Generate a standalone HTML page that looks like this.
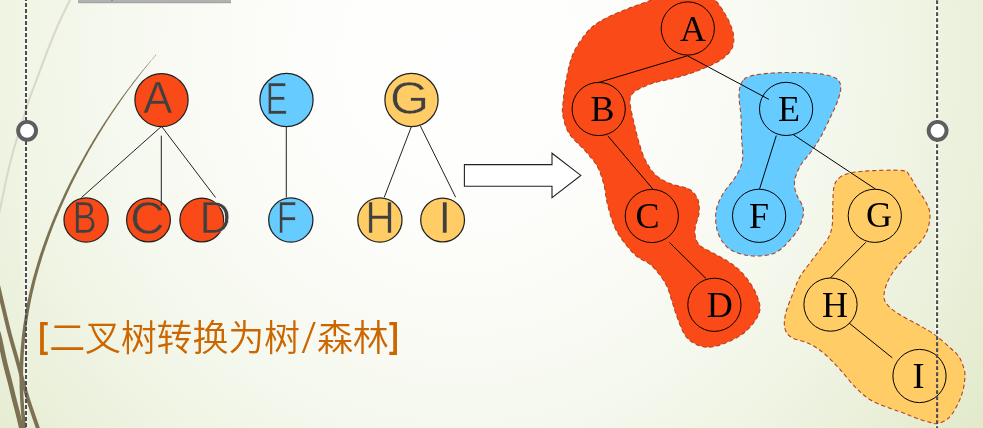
<!DOCTYPE html>
<html lang="zh-CN">
<head>
<meta charset="utf-8">
<title>二叉树转换为树/森林</title>
<style>
html,body{margin:0;padding:0;}
body{width:983px;height:428px;overflow:hidden;position:relative;
 background:#F4F7EA;
 font-family:"Liberation Sans","Noto Sans CJK SC",sans-serif;}
#bg{position:absolute;left:0;top:0;width:983px;height:428px;
 background:radial-gradient(ellipse 776px 800px at 460px 60px,#FEFEFE 0.00%,#FEFEFD 6.25%,#FEFEFD 12.50%,#FDFDFB 18.75%,#FCFDF9 25.00%,#FAFBF6 31.25%,#F8FAF3 37.50%,#F6F9EF 43.75%,#F3F7EB 50.00%,#F1F5E5 56.25%,#EDF2E0 62.50%,#EAF0D9 68.75%,#E6EDD2 75.00%,#E2EACB 81.25%,#DDE7C3 87.50%,#D8E3BA 93.75%,#D3DFB1 100.00%);}
svg{position:absolute;left:0;top:0;}
.title{position:absolute;left:38.2px;top:320.8px;margin:0;white-space:nowrap;
 font-family:"Liberation Sans","Noto Sans CJK SC",sans-serif;
 font-size:36px;line-height:36px;font-weight:350;color:#CC6600;letter-spacing:-0.2px;}
.title b{font-weight:bold;letter-spacing:0;position:relative;top:-3.3px;display:inline-block;transform:scale(0.8,0.985);}
.title b.l{margin-right:-1px;transform-origin:1.98px 50%;}
.title b.r{transform-origin:0.4px 50%;}
.title i{font-style:normal;font-family:"DejaVu Sans","Liberation Sans",sans-serif;font-size:37.1px;letter-spacing:0;
 display:inline-block;width:17.2px;position:relative;top:-1.9px;}
.title i span{display:inline-block;transform:scaleX(1.24);transform-origin:0 50%;margin-left:0.9px;}
#stage{position:absolute;left:0;top:0;width:983px;height:428px;will-change:transform;}
.lt{font-family:"Liberation Sans",sans-serif;font-size:42px;fill:#404040;}
.rt{font-family:"Liberation Serif",serif;font-size:36px;fill:#000;}
</style>
</head>
<body>
<div id="bg"></div>
<div id="stage">
<svg width="983" height="428" viewBox="0 0 983 428">
<rect x="78" y="-1" width="153" height="4" fill="#B1B1B1"/>
<rect x="78" y="2.4" width="153" height="0.8" fill="#9C9C9C"/>
<rect x="111.5" y="0" width="1" height="1.2" fill="#666"/>
<line x1="26" y1="0" x2="26" y2="428" stroke="#FFFFF4" stroke-opacity="0.5" stroke-width="4.4"/>
<line x1="937.1" y1="0" x2="937.1" y2="428" stroke="#FFFFF4" stroke-opacity="0.5" stroke-width="4.4"/>
<path d="M70.0 0.0C68.0 4.2 61.8 16.3 58.0 25.0C54.2 33.7 50.6 42.8 47.0 52.0C43.4 61.2 39.5 72.0 36.5 80.0C33.5 88.0 31.6 92.3 29.0 100.0C26.4 107.7 23.7 117.3 21.0 126.0C18.3 134.7 15.3 143.7 13.0 152.0C10.7 160.3 8.8 168.0 7.0 176.0C5.2 184.0 3.3 193.7 2.0 200.0C0.7 206.3 -0.5 211.7 -1.0 214.0" fill="none" stroke="#DAD8CA" stroke-width="2.1"/>
<path d="M156.2 54.4L155.6 55.1L154.7 56.1L153.8 57.2L152.7 58.5L151.5 59.9L150.2 61.3L149.0 62.7L147.8 64.2L146.6 65.6L145.5 66.9L144.5 68.1L143.4 69.4L142.4 70.6L141.4 71.9L140.4 73.1L139.4 74.4L138.3 75.6L137.3 76.9L136.4 78.1L135.4 79.4L134.4 80.6L133.4 81.9L132.4 83.1L131.5 84.4L130.5 85.7L129.6 86.9L128.6 88.2L127.7 89.4L126.7 90.7L125.8 91.9L124.9 93.2L124.0 94.4L123.0 95.7L122.1 96.9L121.2 98.2L120.3 99.4L119.4 100.7L118.5 101.9L117.6 103.2L116.7 104.5L115.9 105.7L115.0 107.0L114.1 108.2L113.2 109.5L112.4 110.7L111.5 112.0L110.7 113.2L109.8 114.5L109.0 115.7L108.1 117.0L107.3 118.3L106.5 119.5L105.6 120.8L104.8 122.0L104.0 123.3L103.2 124.5L102.4 125.8L101.6 127.0L100.8 128.3L100.0 129.5L99.2 130.8L98.4 132.1L97.6 133.3L96.8 134.6L96.1 135.8L95.3 137.1L94.5 138.3L93.7 139.6L93.0 140.8L92.2 142.1L91.5 143.4L90.7 144.6L90.0 145.9L89.2 147.1L88.5 148.4L87.8 149.6L87.1 150.9L86.3 152.1L85.6 153.4L84.9 154.7L84.2 155.9L83.5 157.2L82.8 158.4L82.1 159.7L81.4 160.9L80.7 162.2L80.0 163.5L79.3 164.7L78.6 166.0L77.9 167.2L77.3 168.5L76.6 169.7L75.9 171.0L75.3 172.2L74.6 173.5L73.9 174.8L73.3 176.0L72.6 177.3L72.0 178.5L71.3 179.8L70.7 181.0L70.1 182.3L69.4 183.6L68.8 184.8L68.2 186.1L67.6 187.3L67.0 188.6L66.4 189.8L65.7 191.1L65.1 192.4L64.5 193.6L63.9 194.9L63.4 196.1L62.8 197.4L62.2 198.7L61.6 199.9L61.0 201.2L60.5 202.4L59.9 203.7L59.3 204.9L58.8 206.2L58.2 207.5L57.7 208.7L57.1 210.0L56.6 211.2L56.0 212.5L55.5 213.8L54.9 215.0L54.4 216.3L53.9 217.5L53.4 218.8L52.8 220.1L52.3 221.3L51.8 222.6L51.3 223.8L50.8 225.1L50.3 226.4L49.8 227.6L49.3 228.9L48.8 230.1L48.3 231.4L47.8 232.6L47.4 233.9L46.9 235.2L46.4 236.4L45.9 237.7L45.5 238.9L45.0 240.2L44.6 241.5L44.1 242.7L43.7 244.0L43.2 245.2L42.8 246.5L42.3 247.8L41.9 249.0L41.5 250.3L41.1 251.5L40.6 252.8L40.2 254.1L39.8 255.3L39.4 256.6L39.0 257.8L38.6 259.1L38.2 260.4L37.8 261.6L37.4 262.9L37.0 264.2L36.7 265.4L36.3 266.7L35.9 267.9L35.5 269.2L35.2 270.5L34.8 271.7L34.5 273.0L34.1 274.2L33.8 275.5L33.4 276.8L33.1 278.0L32.7 279.3L32.4 280.5L32.1 281.8L31.8 283.1L31.4 284.3L31.1 285.6L30.8 286.9L30.5 288.1L30.2 289.4L29.9 290.6L29.6 291.9L29.3 293.2L29.0 294.4L28.7 295.7L28.5 297.0L28.2 298.2L27.9 299.5L27.6 300.7L27.4 302.0L27.1 303.3L26.9 304.5L26.6 305.8L26.4 307.1L26.1 308.3L25.9 309.6L25.7 310.8L25.4 312.1L25.2 313.4L25.0 314.6L24.8 315.9L24.6 317.2L24.4 318.4L24.2 319.7L24.0 320.9L23.8 322.2L23.6 323.5L23.4 324.7L23.2 326.0L23.0 327.3L22.9 328.5L22.7 329.8L22.5 331.0L22.4 332.3L22.2 333.6L22.1 334.8L21.9 336.1L21.8 337.4L21.6 338.6L21.5 339.9L21.4 341.2L21.2 342.4L21.1 343.7L21.0 344.9L20.9 346.2L20.8 347.5L20.7 348.7L20.6 350.0L20.5 351.3L20.4 352.5L20.3 353.8L20.2 355.1L20.2 356.3L20.1 357.6L20.0 358.8L20.0 360.1L19.9 361.4L19.8 362.6L19.8 363.9L19.8 365.2L19.7 366.4L19.7 367.7L19.6 369.0L19.6 370.2L19.6 371.5L19.6 372.7L19.5 374.0L19.5 375.3L19.5 376.5L19.5 377.8L19.5 379.1L19.5 380.3L19.5 381.6L19.6 382.9L19.6 384.1L19.6 385.4L19.6 386.7L19.6 387.9L19.7 389.2L19.7 390.4L19.8 391.7L19.8 393.0L19.9 394.2L19.9 395.5L20.0 396.8L20.0 398.0L20.1 399.3L20.2 400.6L20.2 401.8L20.3 403.1L20.4 404.3L20.5 405.6L20.6 406.9L20.7 408.1L20.8 409.4L20.9 410.7L21.0 411.9L21.1 413.2L21.2 414.5L21.3 415.7L21.4 417.0L21.6 418.2L21.7 419.5L21.8 420.8L22.0 422.2L22.1 423.7L22.3 425.2L22.5 426.6L22.7 428.0L22.8 429.3L23.0 430.4L23.1 431.4L23.2 432.1L26.7 431.7L26.6 430.9L26.5 430.0L26.4 428.8L26.2 427.6L26.1 426.2L25.9 424.7L25.7 423.3L25.5 421.8L25.4 420.4L25.3 419.1L25.1 417.9L25.0 416.6L24.9 415.4L24.8 414.1L24.6 412.9L24.5 411.6L24.4 410.4L24.3 409.1L24.2 407.9L24.1 406.6L24.0 405.4L24.0 404.1L23.9 402.9L23.8 401.6L23.7 400.3L23.7 399.1L23.6 397.8L23.5 396.6L23.5 395.3L23.4 394.1L23.4 392.8L23.3 391.6L23.3 390.3L23.2 389.1L23.2 387.8L23.2 386.6L23.1 385.3L23.1 384.1L23.1 382.8L23.1 381.6L23.1 380.3L23.1 379.1L23.1 377.8L23.1 376.6L23.1 375.3L23.1 374.1L23.1 372.8L23.1 371.5L23.1 370.3L23.2 369.0L23.2 367.8L23.2 366.5L23.3 365.3L23.3 364.0L23.4 362.8L23.4 361.5L23.5 360.3L23.5 359.0L23.6 357.8L23.7 356.5L23.7 355.3L23.8 354.0L23.9 352.8L24.0 351.5L24.1 350.3L24.2 349.0L24.3 347.8L24.4 346.5L24.5 345.3L24.6 344.0L24.7 342.7L24.8 341.5L24.9 340.2L25.1 339.0L25.2 337.7L25.3 336.5L25.5 335.2L25.6 334.0L25.8 332.7L25.9 331.5L26.1 330.2L26.2 329.0L26.4 327.7L26.6 326.5L26.7 325.2L26.9 324.0L27.1 322.7L27.3 321.4L27.5 320.2L27.7 318.9L27.9 317.7L28.1 316.4L28.3 315.2L28.5 313.9L28.7 312.7L28.9 311.4L29.1 310.2L29.4 308.9L29.6 307.7L29.8 306.4L30.1 305.2L30.3 303.9L30.6 302.6L30.8 301.4L31.1 300.1L31.3 298.9L31.6 297.6L31.9 296.4L32.1 295.1L32.4 293.9L32.7 292.6L33.0 291.4L33.3 290.1L33.6 288.9L33.9 287.6L34.2 286.3L34.5 285.1L34.8 283.8L35.1 282.6L35.4 281.3L35.7 280.1L36.1 278.8L36.4 277.6L36.7 276.3L37.1 275.1L37.4 273.8L37.8 272.5L38.1 271.3L38.5 270.0L38.8 268.8L39.2 267.5L39.6 266.3L39.9 265.0L40.3 263.8L40.7 262.5L41.1 261.3L41.5 260.0L41.8 258.7L42.2 257.5L42.6 256.2L43.0 255.0L43.4 253.7L43.8 252.5L44.3 251.2L44.7 250.0L45.1 248.7L45.5 247.4L45.9 246.2L46.4 244.9L46.8 243.7L47.3 242.4L47.7 241.2L48.1 239.9L48.6 238.7L49.0 237.4L49.5 236.1L50.0 234.9L50.4 233.6L50.9 232.4L51.4 231.1L51.9 229.9L52.3 228.6L52.8 227.3L53.3 226.1L53.8 224.8L54.3 223.6L54.8 222.3L55.3 221.1L55.8 219.8L56.3 218.5L56.8 217.3L57.4 216.0L57.9 214.8L58.4 213.5L58.9 212.3L59.5 211.0L60.0 209.7L60.5 208.5L61.1 207.2L61.6 206.0L62.2 204.7L62.8 203.5L63.3 202.2L63.9 200.9L64.4 199.7L65.0 198.4L65.6 197.2L66.2 195.9L66.7 194.7L67.3 193.4L67.9 192.1L68.5 190.9L69.1 189.6L69.7 188.4L70.3 187.1L70.9 185.8L71.5 184.6L72.1 183.3L72.8 182.1L73.4 180.8L74.0 179.6L74.6 178.3L75.3 177.0L75.9 175.8L76.5 174.5L77.2 173.3L77.8 172.0L78.5 170.7L79.1 169.5L79.8 168.2L80.5 167.0L81.1 165.7L81.8 164.4L82.5 163.2L83.1 161.9L83.8 160.7L84.5 159.4L85.2 158.1L85.9 156.9L86.6 155.6L87.3 154.4L88.0 153.1L88.7 151.8L89.4 150.6L90.1 149.3L90.9 148.1L91.6 146.8L92.3 145.5L93.0 144.3L93.8 143.0L94.5 141.8L95.3 140.5L96.0 139.2L96.8 138.0L97.5 136.7L98.3 135.5L99.0 134.2L99.8 132.9L100.6 131.7L101.4 130.4L102.1 129.2L102.9 127.9L103.7 126.6L104.5 125.4L105.3 124.1L106.1 122.8L106.9 121.6L107.7 120.3L108.5 119.1L109.4 117.8L110.2 116.5L111.0 115.3L111.8 114.0L112.7 112.8L113.5 111.5L114.4 110.2L115.2 109.0L116.1 107.7L116.9 106.4L117.8 105.2L118.7 103.9L119.5 102.7L120.4 101.4L121.3 100.1L122.2 98.9L123.1 97.6L124.0 96.3L124.9 95.1L125.8 93.8L126.7 92.6L127.6 91.3L128.5 90.0L129.4 88.8L130.4 87.5L131.3 86.2L132.3 85.0L133.2 83.7L134.1 82.5L135.1 81.2L136.1 79.9L137.0 78.7L138.0 77.4L139.0 76.1L140.0 74.9L140.9 73.6L141.9 72.3L142.9 71.1L143.9 69.8L144.9 68.5L146.0 67.3L147.0 65.9L148.2 64.5L149.4 63.1L150.6 61.6L151.8 60.1L153.0 58.8L154.0 57.5L155.0 56.3L155.8 55.4L156.4 54.6Z" fill="#7C7153"/>
<path d="M-2.0 285.0C-1.1 288.8 1.4 299.7 3.4 308.0C5.4 316.3 7.5 325.7 10.0 335.0C12.5 344.3 15.4 353.8 18.2 364.0C21.0 374.2 23.6 385.0 27.0 396.0C30.4 407.0 36.6 424.3 38.5 430.0" fill="none" stroke="#7C7153" stroke-width="3.9"/>
<path d="M-2.0 332.0C-1.6 333.4 -0.9 335.5 0.2 340.5C1.3 345.5 3.2 355.2 4.8 362.0C6.4 368.8 8.2 375.2 9.7 381.0C11.2 386.8 12.3 391.8 13.6 397.0C14.9 402.2 16.1 406.5 17.5 412.0C18.9 417.5 21.1 427.0 21.8 430.0" fill="none" stroke="#7C7153" stroke-width="4.7"/>
<line x1="161.0" y1="126.8" x2="81.5" y2="197.5" stroke="#222" stroke-width="1"/>
<line x1="161.9" y1="126.8" x2="215.5" y2="197.5" stroke="#222" stroke-width="1"/>
<line x1="286.3" y1="127.0" x2="286.3" y2="197.5" stroke="#222" stroke-width="1"/>
<line x1="411.4" y1="126.6" x2="384.3" y2="197.2" stroke="#222" stroke-width="1"/>
<line x1="420.4" y1="126.0" x2="455.6" y2="197.2" stroke="#222" stroke-width="1"/>
<path d="M464.4 164.6H552V153.2L580.8 175.4L552 197.6V186.3H464.4Z" fill="#FFFFFF" stroke="#222" stroke-width="1.1" stroke-linejoin="miter"/>
<circle cx="161.5" cy="100.1" r="26.6" fill="#FA4A17" stroke="#222" stroke-width="1.25"/>
<circle cx="286.5" cy="100.0" r="26.6" fill="#66CCFF" stroke="#222" stroke-width="1.25"/>
<circle cx="411.5" cy="100.0" r="26.6" fill="#FFCC66" stroke="#222" stroke-width="1.25"/>
<circle cx="86.1" cy="220.0" r="22.1" fill="#FA4A17" stroke="#222" stroke-width="1.25"/>
<circle cx="148.5" cy="220.0" r="21.9" fill="#FA4A17" stroke="#222" stroke-width="1.25"/>
<circle cx="201.8" cy="220.0" r="21.9" fill="#FA4A17" stroke="#222" stroke-width="1.25"/>
<circle cx="290.8" cy="220.0" r="22.1" fill="#66CCFF" stroke="#222" stroke-width="1.25"/>
<circle cx="379.9" cy="220.0" r="22.1" fill="#FFCC66" stroke="#222" stroke-width="1.25"/>
<circle cx="442.6" cy="220.0" r="21.9" fill="#FFCC66" stroke="#222" stroke-width="1.25"/>
<line x1="161.3" y1="135.7" x2="161.3" y2="205.9" stroke="#222" stroke-width="1"/>
<text class="lt" transform="translate(143.29 113.00) scale(1.039 1.049)" stroke="#FA4A17" stroke-width="0.57">A</text>
<text class="lt" transform="translate(265.44 113.60) scale(0.791 1.070)" stroke="#66CCFF" stroke-width="0.65">E</text>
<text class="lt" transform="translate(390.09 114.13) scale(1.196 1.110)" stroke="#FFCC66" stroke-width="0.52">G</text>
<text class="lt" transform="translate(72.64 233.30) scale(0.850 1.049)" stroke="#FA4A17" stroke-width="0.63">B</text>
<text class="lt" transform="translate(130.33 233.84) scale(1.129 1.100)" stroke="#FA4A17" stroke-width="0.54">C</text>
<text class="lt" transform="translate(199.50 233.20) scale(1.040 1.052)" stroke="url(#dg)" stroke-width="0.57">D</text>
<text class="lt" transform="translate(276.88 233.30) scale(0.778 1.049)" stroke="#66CCFF" stroke-width="0.66">F</text>
<text class="lt" transform="translate(365.57 233.20) scale(0.961 1.052)" stroke="#FFCC66" stroke-width="0.60">H</text>
<text class="lt" transform="translate(438.35 233.20) scale(1.123 1.052)" stroke="#FFCC66" stroke-width="0.55">I</text>
<defs><radialGradient id="dg" gradientUnits="userSpaceOnUse" cx="201.8" cy="220.0" r="22.8" gradientTransform="scale(0.96115 0.95016) translate(-199.50 -233.20)"><stop offset="0" stop-color="#FA4A17"/><stop offset="0.985" stop-color="#FA4A17"/><stop offset="0.985" stop-color="#F8FAF2"/><stop offset="1" stop-color="#F8FAF2"/></radialGradient></defs>
<path d="M651.5 0.0C644.0 3.0 635.4 5.6 627.0 9.0C618.6 12.4 608.2 16.5 601.4 20.6C594.6 24.7 590.7 27.8 586.0 33.4C581.3 39.0 576.2 46.7 573.0 54.0C569.8 61.3 568.4 68.8 566.7 77.0C565.0 85.2 563.6 96.5 563.0 103.0C562.4 109.5 561.9 110.6 562.9 115.7C563.9 120.8 565.4 127.7 569.3 133.7C573.1 139.7 581.3 146.1 586.0 151.7C590.7 157.2 594.6 161.4 597.6 167.0C600.6 172.6 602.3 178.6 604.0 185.0C605.7 191.4 605.7 198.0 607.8 205.7C609.9 213.4 612.3 223.2 616.8 231.4C621.3 239.6 629.0 248.9 634.8 254.6C640.6 260.3 646.3 260.6 651.4 265.4C656.5 270.2 662.1 277.4 665.5 283.4C668.9 289.4 670.1 295.8 672.0 301.4C673.9 307.0 674.9 311.2 677.0 316.8C679.1 322.4 681.8 330.3 684.8 334.8C687.8 339.3 691.1 341.7 695.0 343.8C698.9 345.9 703.3 347.2 708.0 347.2C712.7 347.2 717.8 345.9 723.4 343.8C729.0 341.7 736.3 338.4 741.4 334.8C746.5 331.2 751.1 326.3 754.2 322.0C757.3 317.7 759.6 313.6 760.0 309.0C760.4 304.4 758.2 298.9 756.3 294.2C754.4 289.5 751.5 285.1 748.6 281.0C745.8 276.9 742.6 273.2 739.2 269.9C735.8 266.6 732.4 264.2 728.0 261.4C723.6 258.6 717.7 255.6 713.0 253.0C708.3 250.4 703.0 248.4 700.0 245.6C697.0 242.8 696.0 239.5 695.3 236.2C694.5 232.9 694.9 229.8 695.5 226.0C696.1 222.2 698.6 217.8 699.0 213.4C699.4 209.0 699.5 203.4 697.8 199.3C696.1 195.2 693.3 191.6 688.8 189.0C684.3 186.4 676.4 186.2 670.8 183.8C665.2 181.4 659.7 178.9 655.4 174.8C651.1 170.7 647.8 165.0 645.0 159.4C642.2 153.8 640.6 147.8 638.7 141.4C636.8 135.0 635.0 127.2 633.5 120.8C632.0 114.4 630.4 107.1 630.0 102.9C629.6 98.7 630.4 97.5 631.4 95.4C632.4 93.3 632.8 92.5 636.3 90.5C639.8 88.5 646.4 85.3 652.7 83.3C659.0 81.2 667.7 79.8 674.0 78.2C680.3 76.6 686.1 74.8 690.3 73.5C694.5 72.2 695.5 71.7 699.0 70.3C702.5 68.9 707.1 67.1 711.0 65.2C714.9 63.3 719.2 61.1 722.5 58.7C725.8 56.3 728.9 53.4 730.7 50.7C732.6 48.0 733.2 45.5 733.6 42.5C734.0 39.5 733.9 36.2 733.1 32.7C732.3 29.2 730.8 25.1 729.0 21.3C727.2 17.5 724.8 13.4 722.5 9.8C720.2 6.2 718.4 3.3 715.1 0.0C711.9 -3.3 710.2 -8.5 703.0 -10.0C695.8 -11.5 680.6 -10.7 672.0 -9.0C663.4 -7.3 659.0 -3.0 651.5 0.0Z" fill="#FA4A17" stroke="#B04426" stroke-width="1.1" stroke-dasharray="4.2 2.8"/>
<path d="M743.8 79.6C745.4 78.0 747.6 77.0 750.0 76.2C752.4 75.4 753.5 75.1 758.0 74.5C762.5 73.9 769.5 73.1 777.0 72.8C784.5 72.5 795.1 72.3 802.8 72.6C810.5 72.9 817.9 73.5 823.4 74.4C828.9 75.4 833.1 76.4 836.0 78.3C838.9 80.2 840.3 82.6 840.7 86.0C841.1 89.4 840.1 93.7 838.4 98.8C836.7 103.9 833.6 110.4 830.6 116.8C827.6 123.2 823.8 131.4 820.4 137.4C817.0 143.4 813.6 148.1 810.3 152.8C806.9 157.5 802.9 161.0 800.3 165.7C797.7 170.4 795.2 176.3 794.6 181.0C794.0 185.7 795.0 189.7 796.4 194.0C797.8 198.3 801.7 203.0 802.8 206.8C803.9 210.6 803.6 213.1 802.8 217.0C801.9 220.9 800.3 225.7 797.7 230.0C795.1 234.3 790.4 239.5 787.4 242.8C784.4 246.1 782.6 248.1 779.7 250.0C776.8 251.9 774.9 253.5 770.0 254.5C765.1 255.5 757.2 256.7 750.5 255.8C743.8 255.0 735.4 253.0 730.0 249.4C724.6 245.8 720.8 240.0 718.4 234.0C716.0 228.0 715.2 219.8 715.8 213.4C716.4 207.0 718.6 201.6 722.0 195.4C725.4 189.2 732.6 181.9 736.0 176.0C739.4 170.1 741.5 166.4 742.4 160.0C743.3 153.6 741.8 144.6 741.6 137.4C741.4 130.2 741.4 123.0 741.0 116.8C740.6 110.6 739.5 104.0 739.2 100.0C738.9 96.0 738.9 94.9 739.1 92.5C739.3 90.1 739.6 87.7 740.4 85.5C741.2 83.3 742.2 81.1 743.8 79.6Z" fill="#66CCFF" stroke="#B04426" stroke-width="1.1" stroke-dasharray="4.2 2.8"/>
<path d="M838.8 178.3C841.6 175.7 844.6 174.3 850.4 173.0C856.2 171.7 864.7 171.0 873.5 170.6C882.3 170.2 897.0 169.8 903.0 170.6C909.0 171.4 907.1 172.7 909.5 175.7C911.9 178.7 914.4 184.1 917.2 188.6C920.0 193.1 924.1 198.4 926.2 202.7C928.3 207.0 929.8 209.8 930.0 214.3C930.2 218.8 929.2 225.0 927.5 229.7C925.8 234.4 924.1 237.5 919.8 242.7C915.5 247.9 906.9 254.8 901.8 260.8C896.7 266.8 892.0 273.1 889.0 278.8C886.0 284.5 884.3 290.6 884.0 294.9C883.7 299.2 884.7 301.4 887.3 304.7C889.9 308.0 894.7 311.4 899.5 314.5C904.3 317.6 911.0 320.8 915.9 323.5C920.8 326.2 925.5 328.7 929.0 330.9C932.5 333.1 933.9 334.0 937.2 336.6C940.5 339.2 945.3 343.5 948.6 346.5C951.9 349.5 955.0 351.9 957.2 354.5C959.4 357.1 960.3 359.0 961.6 362.0C962.9 365.0 964.3 369.1 964.8 372.3C965.3 375.5 964.9 377.9 964.6 381.0C964.3 384.1 963.8 387.4 962.8 391.0C961.8 394.6 960.2 399.0 958.4 402.8C956.6 406.6 954.1 411.1 952.0 414.0C949.9 416.9 948.5 418.4 946.0 420.0C943.5 421.6 939.7 423.3 937.0 423.7C934.3 424.1 932.5 423.0 930.0 422.4C927.5 421.8 924.7 421.0 921.7 420.0C918.7 419.0 915.1 417.7 912.0 416.5C908.9 415.3 906.4 414.1 903.0 412.8C899.6 411.5 896.8 410.9 891.5 408.8C886.2 406.7 877.0 403.9 871.0 400.3C865.0 396.7 860.7 392.5 855.5 387.4C850.3 382.2 845.1 375.0 840.0 369.4C834.9 363.8 829.8 358.3 824.7 354.0C819.6 349.7 814.9 346.5 809.3 343.7C803.7 340.9 795.4 339.9 791.3 337.3C787.2 334.7 785.9 332.2 784.9 328.3C783.9 324.4 784.3 319.6 785.5 314.0C786.7 308.4 789.9 301.1 792.3 295.0C794.6 288.9 796.7 282.7 799.6 277.4C802.5 272.1 806.5 267.6 809.9 263.0C813.3 258.4 816.9 253.9 820.1 249.5C823.3 245.1 827.1 240.6 829.1 236.5C831.1 232.4 831.6 228.9 832.2 225.0C832.8 221.1 832.4 219.1 832.6 213.0C832.9 206.9 832.7 194.4 833.7 188.6C834.7 182.8 836.0 180.9 838.8 178.3Z" fill="#FFCC66" stroke="#B04426" stroke-width="1.1" stroke-dasharray="4.2 2.8"/>
<line x1="687.5" y1="55.8" x2="597.6" y2="82.8" stroke="#000" stroke-width="1"/>
<line x1="687.5" y1="55.8" x2="768.9" y2="99.4" stroke="#000" stroke-width="1"/>
<line x1="607.8" y1="135.8" x2="652.8" y2="189.0" stroke="#000" stroke-width="1"/>
<line x1="669.5" y1="242.5" x2="706.0" y2="278.5" stroke="#000" stroke-width="1"/>
<line x1="776.3" y1="135.6" x2="759.6" y2="188.8" stroke="#000" stroke-width="1"/>
<line x1="793.1" y1="134.5" x2="875.4" y2="189.0" stroke="#000" stroke-width="1"/>
<line x1="865.8" y1="242.3" x2="830.4" y2="278.0" stroke="#000" stroke-width="1"/>
<line x1="849.0" y1="323.0" x2="892.3" y2="357.8" stroke="#000" stroke-width="1"/>
<circle cx="687.8" cy="28.5" r="26.6" fill="none" stroke="#000" stroke-width="1"/>
<circle cx="598.7" cy="109.0" r="26.6" fill="none" stroke="#000" stroke-width="1"/>
<circle cx="651.8" cy="216.0" r="26.6" fill="none" stroke="#000" stroke-width="1"/>
<circle cx="714.4" cy="304.8" r="26.6" fill="none" stroke="#000" stroke-width="1"/>
<circle cx="786.1" cy="108.9" r="26.6" fill="none" stroke="#000" stroke-width="1"/>
<circle cx="759.1" cy="215.8" r="26.6" fill="none" stroke="#000" stroke-width="1"/>
<circle cx="874.8" cy="215.8" r="26.6" fill="none" stroke="#000" stroke-width="1"/>
<circle cx="830.5" cy="304.6" r="26.6" fill="none" stroke="#000" stroke-width="1"/>
<circle cx="919.5" cy="376.0" r="26.6" fill="none" stroke="#000" stroke-width="1"/>
<text class="rt" x="680.04" y="41.10">A</text>
<text class="rt" x="590.55" y="121.22">B</text>
<text class="rt" x="635.50" y="227.94">C</text>
<text class="rt" x="706.77" y="316.71">D</text>
<text class="rt" x="778.08" y="120.70">E</text>
<text class="rt" x="748.89" y="228.20">F</text>
<text class="rt" x="866.11" y="227.24">G</text>
<text class="rt" x="821.95" y="316.90">H</text>
<text class="rt" x="912.52" y="387.90">I</text>
<line x1="26" y1="-2.9" x2="26" y2="430" stroke="#4B4C55" stroke-width="2.1" stroke-dasharray="3.8 2.2"/>
<line x1="937.1" y1="-5.7" x2="937.1" y2="430" stroke="#4B4C55" stroke-width="2.1" stroke-dasharray="3.8 2.2"/>
<circle cx="27.1" cy="130.8" r="8.95" fill="#FFFFFF" stroke="#5E5E5E" stroke-width="3.9"/>
<circle cx="937.6" cy="130.8" r="8.95" fill="#FFFFFF" stroke="#5E5E5E" stroke-width="3.9"/>
</svg>
<h1 class="title"><b class="l">[</b>二叉树转换为树<i><span>/</span></i>森林<b class="r">]</b></h1>
</div>
</body>
</html>
